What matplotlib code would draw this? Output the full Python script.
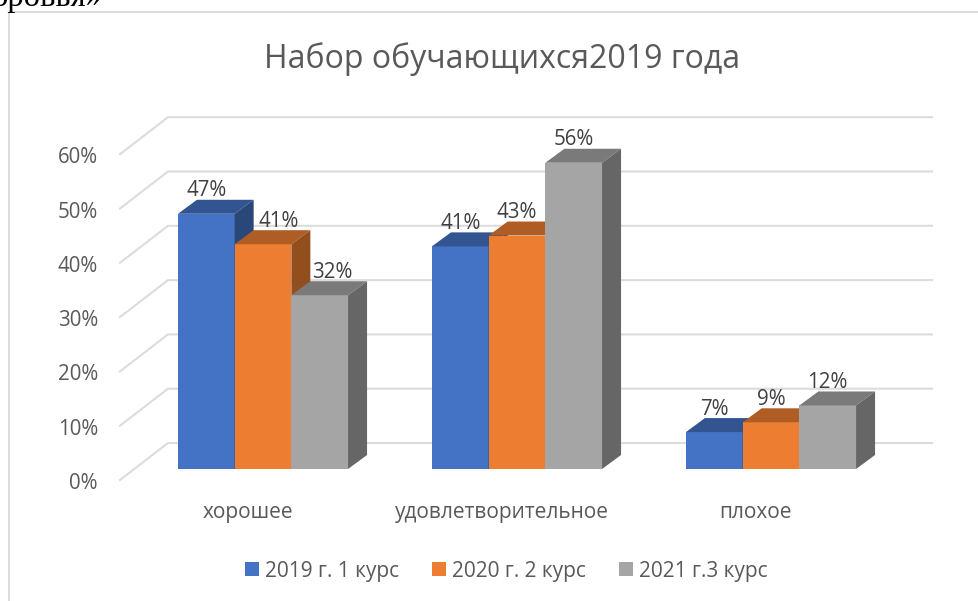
import numpy as np
import matplotlib
matplotlib.use('Agg')
import matplotlib.pyplot as plt
from matplotlib.patches import Polygon, Rectangle

categories = ['хорошее', 'удовлетворительное', 'плохое']
series_names = ['2019 г. 1 курс', '2020 г. 2 курс', '2021 г.3 курс']
# bar heights as measured, the labels show them rounded
values_2019 = [47, 41, 6.8]
values_2020 = [41.4, 43, 8.6]
values_2021 = [32, 56.4, 11.7]
y_ticks = [0, 10, 20, 30, 40, 50, 60]
title = 'Набор обучающихся2019 года'

W, H = 979, 601
PX_PER_CAT = 254.0
PX_PER_PCT = 5.43
X0_PX, Y0_PX = 263.0, 469.0

plt.rcParams['font.family'] = ['Open Sans', 'DejaVu Sans']

fig = plt.figure(figsize=(W / 100, H / 100), dpi=100)
ax = fig.add_axes([0, 0, 1, 1])
# axes fills the figure, x = category index, y = percent
ax.set_xlim(-X0_PX / PX_PER_CAT, (W - X0_PX) / PX_PER_CAT)
ax.set_ylim(-(H - Y0_PX) / PX_PER_PCT, Y0_PX / PX_PER_PCT)
ax.axis('off')


def dx(px):
    return px / PX_PER_CAT


def dy(px):
    return px / PX_PER_PCT


def shade(c, f):
    return tuple(np.array(matplotlib.colors.to_rgb(c)) * f)


# chart frame and the clipped text above it
ax.plot([dx(9.5 - X0_PX), dx(9.5 - X0_PX), dx(W - X0_PX)],
        [-(H - Y0_PX) / PX_PER_PCT, dy(Y0_PX - 12), dy(Y0_PX - 12)],
        color='#d9d9d9', lw=1.3)
ax.text(dx(-8 - X0_PX), dy(Y0_PX - 6), 'оровья»', family='Liberation Serif',
        fontsize=23.5, color='black', ha='left', va='baseline')

# walls
depth_x, depth_y = 48, 37
left_x = dx(120 - X0_PX)
back_x = dx(120 + depth_x - X0_PX)
end_x = dx(932 - X0_PX)
floor_y = dy(Y0_PX - 480)
for t in y_ticks:
    y = floor_y + t
    ax.plot([left_x, back_x, end_x], [y, y + dy(depth_y), y + dy(depth_y)],
            color='#dcdcdc', lw=1.5, solid_joinstyle='miter', zorder=1)
    ax.text(dx(98 - X0_PX), y - dy(3.5), f'{t}%', fontsize=14.8, color='#595959',
            ha='right', va='center')

# bars
colors = ['#4472c4', '#ed7d31', '#a5a5a5']
series = [values_2019, values_2020, values_2021]
bar_w = 56.7 / PX_PER_CAT
bx, by = dx(19), dy(14)
# the first group's labels were nudged right in the original
label_shift = {(0, 1): 16, (0, 2): 13}
for cat in range(len(categories)):
    for s in range(3):
        v = series[s][cat]
        x = cat + (s - 1.5) * bar_w
        c = colors[s]
        z = 3 + s
        ax.add_patch(Rectangle((x, 0), bar_w, v, fc=c, ec='none', zorder=z))
        ax.add_patch(Polygon([(x, v), (x + bar_w, v), (x + bar_w + bx, v + by), (x + bx, v + by)],
                             fc=shade(c, 0.74), ec='none', zorder=z))
        ax.add_patch(Polygon([(x + bar_w, 0), (x + bar_w + bx, by), (x + bar_w + bx, v + by), (x + bar_w, v)],
                             fc=shade(c, 0.62), ec='none', zorder=z))
        ax.text(x + bar_w / 2 + dx(label_shift.get((cat, s), 0)), v + dy(23), f'{v:.0f}%',
                fontsize=14.8, color='#404040', ha='center', va='center', zorder=10)
    ax.text(cat - dx(15), dy(469 - 518), categories[cat], fontsize=15, color='#595959',
            ha='center', va='baseline')

# legend
legend_x = [245, 432, 619]
for name, c, lx in zip(series_names, colors, legend_x):
    ax.add_patch(Rectangle((dx(lx - X0_PX), dy(Y0_PX - 576)), dx(14), dy(14), fc=c, ec='none'))
    ax.text(dx(lx + 20.5 - X0_PX), dy(Y0_PX - 571), name, fontsize=15, color='#595959',
            ha='left', va='center')

ax.text(dx(502 - X0_PX), dy(Y0_PX - 59), title, fontsize=23, color='#595959',
        ha='center', va='center')

fig.savefig('out.png', dpi=100)
